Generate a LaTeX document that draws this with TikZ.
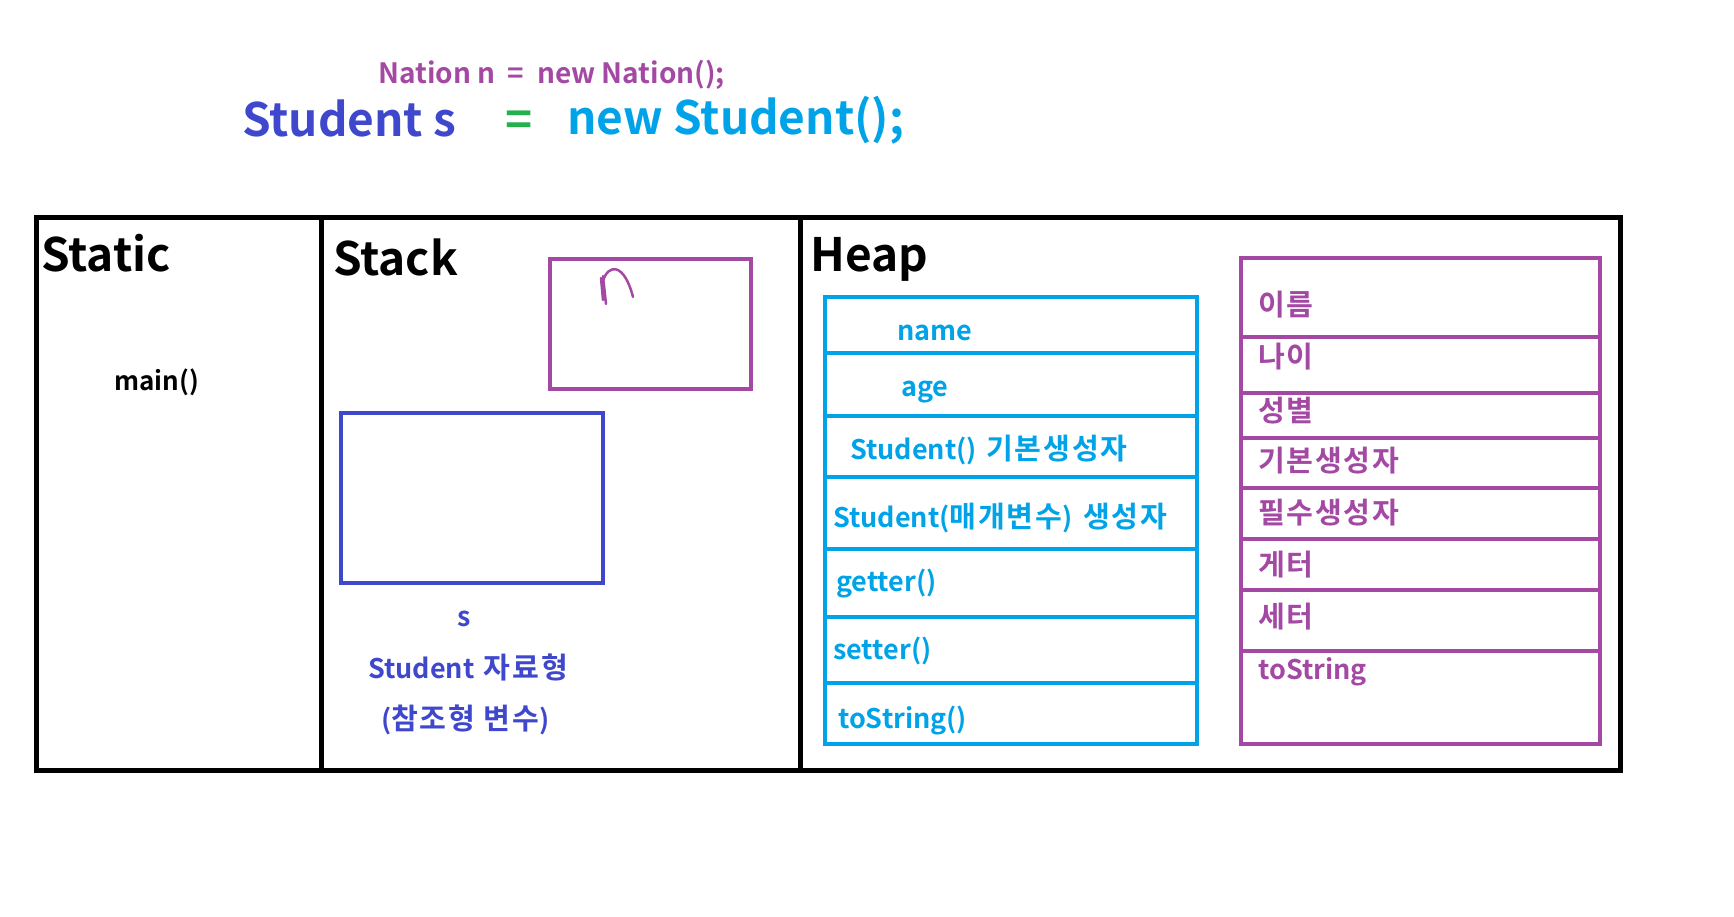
\documentclass[tikz,border=0pt]{standalone}
\usepackage{fontspec}
\setmainfont{Noto Sans CJK KR}[BoldFont={Noto Sans CJK KR Bold}]
\newfontfamily\kr{Noto Sans CJK KR}[BoldFont={Noto Sans CJK KR Bold}, Scale=1.08, LetterSpace=6]
\definecolor{mspurple}{HTML}{A349A4}
\definecolor{msindigo}{HTML}{3F48CC}
\definecolor{msgreen}{HTML}{22B14C}
\definecolor{mscyan}{HTML}{00A2E8}
\newcommand{\fsz}[1]{\fontsize{#1}{#1}\selectfont}
\begin{document}
\begin{tikzpicture}[x=1pt, y=-1pt, font=\bfseries,
    area/.style={line width=5pt},
    code/.style={anchor=base west, inner sep=0pt},
    title/.style={code, font=\bfseries\fsz{46}},
    cell/.style={code, font=\bfseries\fsz{27}},
    cyanrow/.style={cell, text=mscyan},
    purplerow/.style={cell, text=mspurple},
    varlabel/.style={code, text=msindigo, font=\bfseries\fsz{27}}]
  \useasboundingbox (0,0) rectangle (1734,916);
  % source line
  \node[code, text=mspurple, font=\bfseries\fsz{28}] (nline) at (378,83) {Nation n \ = \ new Nation();};
  \node[code, text=msindigo, font=\bfseries\fsz{46}] (stype) at (242,136) {Student s};
  \node[code, text=msgreen, font=\bfseries\fsz{46}] (assign) at (505,136) {=};
  \node[code, text=mscyan, font=\bfseries\fsz{46}] (snew) at (567,134) {new Student();};
  % memory areas
  \draw[area] (36,217) rectangle (1620,770);
  \draw[area] (321,217) -- (321,770);
  \draw[area] (800,217) -- (800,770);
  \node[title] (static) at (41,271) {Static};
  \node[title] (stack) at (333,275) {Stack};
  \node[title] (heap) at (810,271) {Heap};
  \node[code, font=\bfseries\fsz{26}] (main) at (114,390) {main()};
  % stack variables
  \draw[draw=mspurple, line width=4pt] (550,259) rectangle (751,389);
  \draw[mspurple, line width=2.5pt, line cap=round] (603,276) -- (606,304)
    (601,278) -- (603,300)
    (603,281) .. controls (608,264) and (624,262) .. (633,297);
  \draw[draw=msindigo, line width=4.5pt] (341,413) rectangle (603,583);
  \node[varlabel, anchor=base] (svar) at (464,626) {s};
  \node[varlabel] (stypelbl) at (368,678) {Student\hspace{0.35em}{\kr 자료형}};
  \node[varlabel] (sref) at (381,729) {({\kr 참조형 변수})};
  % heap: Student object
  \draw[draw=mscyan, line width=4pt] (825,297) rectangle (1197,744);
  \foreach \y in {353, 416, 477, 549, 617, 683}
    \draw[mscyan, line width=4pt] (825,\y) -- (1197,\y);
  \node[cyanrow] (fname) at (897,340) {name};
  \node[cyanrow] (fage) at (901,396) {age};
  \node[cyanrow] (fctor) at (850,459) {Student()\hspace{0.35em}{\kr 기본생성자}};
  \node[cyanrow] (fctorarg) at (833,527) {Student({\kr 매개변수})\hspace{0.4em}{\kr 생성자}};
  \node[cyanrow] (fget) at (836,591) {getter()};
  \node[cyanrow] (fset) at (833,659) {setter()};
  \node[cyanrow] (fstr) at (838,728) {toString()};
  % heap: Nation object
  \draw[draw=mspurple, line width=4pt] (1241,258) rectangle (1600,744);
  \foreach \y in {337, 393, 438, 488, 539, 590, 651}
    \draw[mspurple, line width=4pt] (1241,\y) -- (1600,\y);
  \node[purplerow] (pname) at (1258,315) {\kr 이름};
  \node[purplerow] (page) at (1258,367) {\kr 나이};
  \node[purplerow] (pgender) at (1258,421) {\kr 성별};
  \node[purplerow] (pctor) at (1258,471) {\kr 기본생성자};
  \node[purplerow] (pctorreq) at (1258,523) {\kr 필수생성자};
  \node[purplerow] (pget) at (1258,575) {\kr 게터};
  \node[purplerow] (pset) at (1258,627) {\kr 세터};
  \node[purplerow] (pstr) at (1258,679) {toString};
\end{tikzpicture}
\end{document}
